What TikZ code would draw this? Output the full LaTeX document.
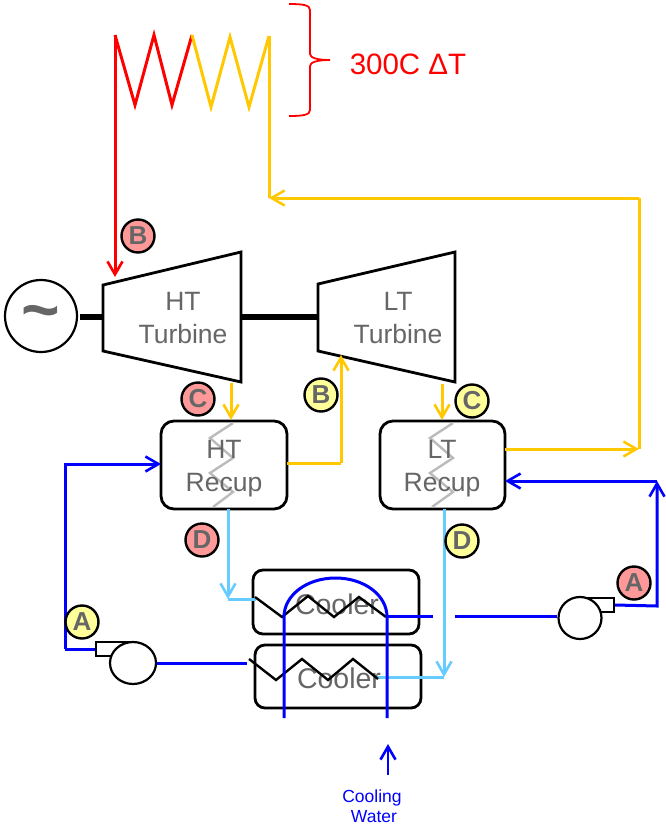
\documentclass[tikz,border=0pt]{standalone}
\usepackage{fontspec}
\setmainfont{Liberation Sans}
\usetikzlibrary{arrows.meta,shapes.geometric}
\definecolor{gtext}{HTML}{666666}
\definecolor{ylw}{HTML}{FFC800}
\definecolor{lblue}{HTML}{66CCFF}
\definecolor{bred}{HTML}{FF9999}
\definecolor{bylw}{HTML}{FFFF99}
\definecolor{zgrey}{HTML}{BBBBBB}
\tikzset{
  x=1pt,y=-1pt,
  barb/.style={-{Straight Barb[length=13pt,width=15pt,line width=2.6pt]}},
  pipe/.style={line width=3pt,line join=miter},
  redp/.style={pipe,draw=red},
  ylwp/.style={pipe,draw=ylw},
  bluep/.style={pipe,draw=blue},
  lbp/.style={pipe,draw=lblue},
  casing/.style={draw=black,line width=2.8pt,fill=white,line join=miter},
  shaft/.style={draw=black,line width=6pt},
  lbl/.style={text=gtext,font=\fontsize{26.5}{32}\selectfont,align=center,inner sep=0pt},
  boxx/.style={draw=black,line width=2.8pt,fill=white,rounded corners=13pt,inner sep=0pt},
  badge/.style={circle,draw=black,line width=2.4pt,minimum size=33pt,inner sep=0pt,text=gtext,font=\fontsize{26}{26}\selectfont\bfseries},
  rb/.style={badge,fill=bred},
  yb/.style={badge,fill=bylw},
  coil/.style={draw=black,line width=2.4pt},
  gcoil/.style={draw=zgrey,line width=2.4pt},
  pumpb/.style={draw=black,line width=2.2pt,fill=white},
}
\begin{document}
\begin{tikzpicture}
\useasboundingbox (0,0) rectangle (665,825);
% free coordinates
\coordinate (hA) at (115,35);
\coordinate (hB) at (192,35);
\coordinate (hC) at (269,36);
\coordinate (hD) at (269,198);
\coordinate (htIn) at (115,277);
\coordinate (yR) at (639,198);
\coordinate (yRb) at (639,449);
\coordinate (htOut) at (231,383);
\coordinate (ltOut) at (442,384);
\coordinate (ltIn) at (341,355);
\coordinate (yJ) at (341,463);
\coordinate (bL) at (65,649);
\coordinate (bLt) at (65,464);
\coordinate (bR) at (657,606);
\coordinate (bRt) at (657,481);
\coordinate (cwA) at (388,775);
\coordinate (cwB) at (388,744);
% heater
\draw[redp] (hA) -- (135,105) -- (154,35) -- (172,105) -- (hB);
\draw[ylwp] (hB) -- (211,107) -- (230,37) -- (249,107) -- (hC);
\draw[redp,line width=1.8pt] (289,4) .. controls (303,4) and (310,5) .. (310,10) -- (310,54) .. controls (310,58) and (318,60) .. (330,60) .. controls (318,60) and (310,62) .. (310,66) -- (310,110) .. controls (310,115) and (303,116) .. (289,116);
\node[text=red,font=\fontsize{29.5}{32}\selectfont,inner sep=0pt] (dt) at (408,64) {300C ΔT};
% shafts and generator
\node[circle,draw=black,line width=2.2pt,fill=white,minimum size=72pt,inner sep=0pt] (gen) at (41,316) {};
\node[text=gtext,font=\fontsize{66}{66}\selectfont\bfseries,inner sep=0pt] (tilde) at (41,319) {\textasciitilde};
% turbines
\draw[casing] (103,285) coordinate (ht1) -- (241,252) -- (241,382) -- (103,351) -- cycle;
\draw[casing] (318,284) coordinate (lt1) -- (455,252) -- (455,382) -- (318,351) -- cycle;
\coordinate (genR) at (80,317); \coordinate (htL) at (103,317); \coordinate (htR) at (241,317); \coordinate (ltL) at (318,317);
\draw[shaft] (genR) -- (htL);
\draw[shaft] (htR) -- (ltL);
\node[lbl] (ht) at (183,318.5) {HT\\[1pt]Turbine};
\node[lbl] (lt) at (398,318.5) {LT\\[1pt]Turbine};
% coolers
\node[boxx,minimum width=166pt,minimum height=64pt,rounded corners=10pt] (c1) at (336,602) {};
\node[lbl,font=\fontsize{28.5}{32}\selectfont] (c1t) at (337,604) {Cooler};
\node[boxx,minimum width=166pt,minimum height=63pt,rounded corners=10pt] (c2) at (338,676.5) {};
\node[lbl,font=\fontsize{28.5}{32}\selectfont] (c2t) at (339,678) {Cooler};
% recuperators
\node[boxx,minimum width=126pt,minimum height=88pt] (hr) at (224,465) {};
\node[boxx,minimum width=125pt,minimum height=88pt] (lr) at (442.5,465) {};
\draw[gcoil] (233,423) -- (210,438) -- (233,458) -- (210,473) -- (233,492) -- (213,507);
\draw[gcoil] (453,423) -- (430,438) -- (453,458) -- (430,473) -- (453,492) -- (432,507);
\node[lbl] (hrt) at (224,469) {HT\\[1pt]Recup};
\node[lbl] (lrt) at (442,469) {LT\\[1pt]Recup};
% anchors on boxes
\coordinate (hrTop) at (231,420);
\coordinate (lrTop) at (442,420);
\coordinate (hrBot) at (228,509);
\coordinate (lrBot) at (444,509);
\coordinate (hrR) at (287,463);
\coordinate (lrR) at (505,449);
\coordinate (hrL) at (161,464);
\coordinate (lrL) at (505,481);
% yellow
\draw[ylwp,barb] (htOut) -- (hrTop);
\draw[ylwp,barb] (ltOut) -- (lrTop);
\draw[ylwp] (hrR) -- (yJ);
\draw[ylwp,barb] (yJ) -- (ltIn);
\draw[ylwp,barb] (lrR) -- (yRb);
\draw[ylwp] (yRb) -- (yR);
\draw[ylwp,barb] (yR) -- (hD);
\draw[ylwp] (hC) -- (hD);
\draw[redp,barb] (hA) -- (htIn);
% pumps
\node[pumpb,minimum width=38pt,minimum height=14pt,inner sep=0pt] (p1box) at (115,649) {};
\node[pumpb,ellipse,minimum width=46pt,minimum height=42pt,inner sep=0pt] (p1) at (133,663) {};
\node[pumpb,minimum width=38pt,minimum height=14pt,inner sep=0pt] (p2box) at (595,605) {};
\node[pumpb,ellipse,minimum width=43pt,minimum height=42pt,inner sep=0pt] (p2) at (580,618) {};
% blue
\coordinate (c1L) at (455,616);
\coordinate (c2R) at (247,663);
\draw[bluep] (p1box.west) -- (bL);
\draw[bluep,barb] (bL) -- (bLt) -- (hrL);
\draw[bluep] (p1.east) -- (c2R);
\draw[bluep] (c1L) -- (p2.west |- c1L);
\draw[bluep,barb] (p2box.east) -- (bR) -- (bRt);
\draw[bluep,barb] (bRt) -- (lrL);
% light blue
\coordinate (lb1) at (228,599);
\coordinate (lb2) at (444,677);
\draw[lbp,barb] (hrBot) -- (lb1);
\draw[lbp,barb] (lrBot) -- (lb2);
\draw[lbp] (lb1) -- (256,599);
\draw[lbp] (lb2) -- (376,677);
% coils
\draw[coil] (255,597) -- (282,617) -- (308,596) -- (334,617) -- (359,597) -- (386,617);
\draw[coil] (249,659) -- (276,680) -- (302,659) -- (328,680) -- (353,659) -- (378,679);
% cooling water loop
\draw[bluep] (284,718) -- (284,617) .. controls (284,595) and (307,578) .. (335.5,578) .. controls (364,578) and (387,595) .. (387,617) -- (387,718);
\draw[bluep] (386,616) -- (433,616);
\draw[draw=blue,line width=2.2pt,barb] (cwA) -- (cwB);
\node[text=blue,font=\fontsize{17.5}{21}\selectfont,align=center,inner sep=0pt] (cw) at (372,806) {Cooling\\[-0.5pt]\hspace*{4pt}Water};
% badges
\node[rb] (bB) at (138,236) {B};
\node[rb] (bC) at (198,399) {C};
\node[yb] (yB) at (321,395) {B};
\node[yb] (yC) at (472,401) {C};
\node[rb] (bD) at (202,540) {D};
\node[yb] (yD) at (462,541) {D};
\node[yb] (yA) at (82,622) {A};
\node[rb] (bA) at (634,583) {A};
\end{tikzpicture}
\end{document}
